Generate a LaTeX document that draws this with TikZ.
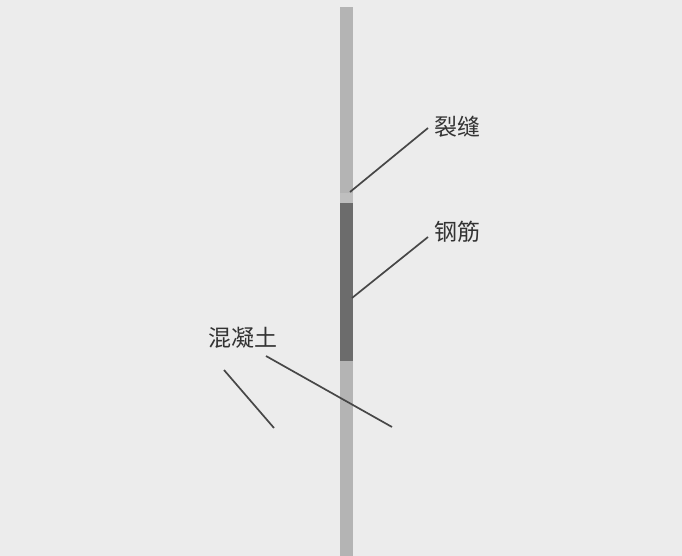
\documentclass[tikz,border=0pt]{standalone}
\usepackage{fontspec}
\newfontfamily\cjk{Noto Sans CJK SC}
\definecolor{bg}{HTML}{ECECEC}
\definecolor{barlight}{HTML}{B4B4B4}
\definecolor{bardark}{HTML}{6C6C6C}
\definecolor{ink}{HTML}{333333}
\tikzset{
  lbl/.style={font=\cjk\fontsize{23}{23}\selectfont, text=ink, inner sep=0pt},
  leader/.style={draw=ink!90, line width=1.7pt},
}
\begin{document}
\begin{tikzpicture}[x=1pt,y=-1pt]
\fill[bg] (0,0) rectangle (682,556);
\useasboundingbox (0,0) rectangle (682,556);
% bar
\fill[barlight] (340,7) rectangle (353,556);
\fill[barlight!85!white] (340,193) rectangle (353,203);
\fill[bardark] (340,203) rectangle (353,361);
% labels
\node[lbl] (crack) at (457,127) {裂缝};
\node[lbl] (steel) at (457,232) {钢筋};
\node[lbl] (conc) at (243,338) {混凝土};
% leader anchors
\coordinate (crackT) at (428,128);
\coordinate (crackB) at (350,192);
\coordinate (steelT) at (428,237);
\coordinate (steelB) at (352,298);
\coordinate (c1a) at (224,370);
\coordinate (c1b) at (274,428);
\coordinate (c2a) at (266,356);
\coordinate (c2b) at (392,427);
\draw[leader] (crackT) -- (crackB);
\draw[leader] (steelT) -- (steelB);
\draw[leader] (c1a) -- (c1b);
\draw[leader] (c2a) -- (c2b);
\end{tikzpicture}
\end{document}
